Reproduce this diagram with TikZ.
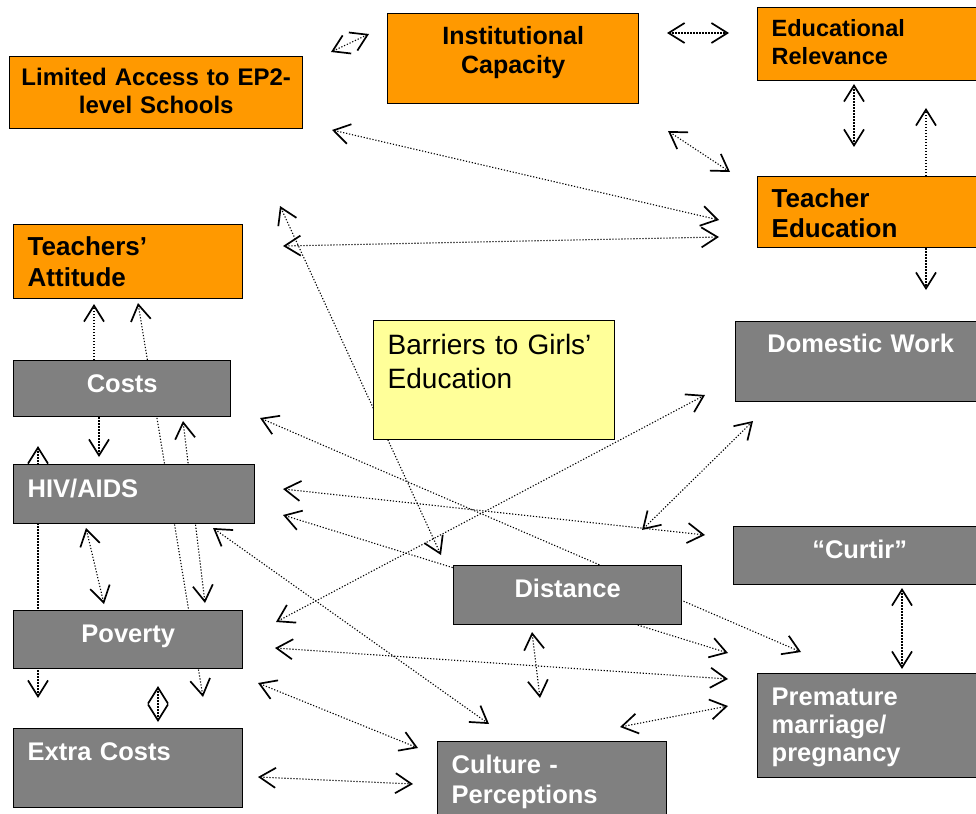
\documentclass[tikz,border=0pt]{standalone}
\usepackage{fontspec}
\setmainfont{Liberation Sans}
\usetikzlibrary{arrows.meta, backgrounds}
\definecolor{boxorange}{HTML}{FF9900}
\definecolor{boxgrey}{HTML}{808080}
\definecolor{boxyellow}{HTML}{FFFF99}
\tikzset{
  box/.style = {draw, line width=1.4pt, anchor=north west, inner ysep=0pt},
  orangebox/.style = {box, fill=boxorange, font=\bfseries\fontsize{24}{28}\selectfont},
  greybox/.style = {box, fill=boxgrey, text=white, font=\bfseries\fontsize{25.5}{29}\selectfont},
  notebox/.style = {box, fill=boxyellow, font=\fontsize{28}{34}\selectfont},
  leftbox/.style = {align=left, inner xsep=14pt},
  midbox/.style = {align=center, inner xsep=4pt},
  link/.style = {dash pattern=on 1.2pt off 1.8pt, line width=1.1pt},
}

\begin{document}
\begin{tikzpicture}[x=1pt, y=-1pt, >={Straight Barb[length=16pt, width=20pt, line width=1.7pt]}]
  \useasboundingbox (0,0) rectangle (976,813);

  % orange boxes
  \node (acc) [orangebox, midbox, text width=285pt, text height=29pt, text depth=43pt] at (9,56) {Limited Access to EP2-\\level Schools};
  \node (cap) [orangebox, midbox, text width=243pt, text height=31pt, text depth=59pt,
    font=\bfseries\fontsize{25}{29}\selectfont] at (387,13) {Institutional\\Capacity};
  \node (rel) [orangebox, leftbox, text width=212pt, text height=29pt, text depth=44pt,
    font=\bfseries\fontsize{23.5}{27.5}\selectfont] at (757,7) {Educational\\Relevance};
  \node (ted) [orangebox, leftbox, text width=212pt, text height=31pt, text depth=40pt,
    font=\bfseries\fontsize{26}{30}\selectfont] at (757,176) {Teacher\\Education};
  \node (att) [orangebox, leftbox, text width=201pt, text height=31pt, text depth=43pt,
    font=\bfseries\fontsize{26}{30.5}\selectfont] at (13,224) {Teachers’\\Attitude};

  % grey boxes
  \node (cos) [greybox, midbox, text width=209pt, text height=32pt, text depth=24pt] at (13,360) {Costs};
  \node (hiv) [greybox, leftbox, text width=213pt, text height=33pt, text depth=26pt] at (13,464) {HIV/AIDS};
  \node (pov) [greybox, midbox, text width=221pt, text height=32pt, text depth=26pt] at (13,610) {Poverty};
  \node (xc) [greybox, leftbox, text width=201pt, text height=32pt, text depth=47pt] at (13,728) {Extra Costs};
  \node (dom) [greybox, midbox, text width=242pt, text height=31pt, text depth=49pt] at (735,321) {Domestic Work};
  \node (cur) [greybox, midbox, text width=244pt, text height=32pt, text depth=26pt] at (733,526) {“Curtir”};
  \node (dis) [greybox, midbox, text width=220pt, text height=32pt, text depth=27pt] at (453,565) {Distance};
  \node (pre) [greybox, leftbox, text width=212pt, text height=32pt, text depth=72pt,
    font=\bfseries\fontsize{25.5}{28}\selectfont] at (757,673) {Premature\\marriage/\\pregnancy};
  \node (cul) [greybox, leftbox, text width=201pt, text height=32pt, text depth=53pt,
    font=\bfseries\fontsize{25.5}{29.5}\selectfont] at (437,741) {Culture -\\Perceptions};

  % title box
  \node (bar) [notebox, leftbox, text width=213pt, text height=34pt, text depth=85pt] at (373,320) {Barriers to Girls’\\Education};

  \begin{scope}[on background layer]
    % free ends of the arrows
    \foreach \n/\x/\y in {
      acc1/331/52, cap1/369/34, cap2/667/33, rel1/729/33, rel2/854/84, ted1/854/147,
      tedUp/926/108, tedDn/926/290, cap3/668/131, ted2/730/172, acc2/332/130, ted3/719/220,
      att1/283/246, ted4/719/237, att2/280/206, dis1/441/555, att3/138/303, xc1/203/697,
      hiv1/99/457, hiv2/38/446, xc2/38/698, hiv3/86/528, pov1/104/604, pov2/158/686,
      xc3/158/722, xc4/258/777, cul1/413/784, pov3/258/683, cul2/418/748, pov4/275/648,
      pre1/728/679, pov5/276/622, dom1/705/395, hiv4/283/515, pre2/728/653, hiv5/283/489,
      cur1/705/535, cos1/260/418, pre3/801/652, hiv6/213/528, cul3/489/724, dom2/753/421,
      dis2/642/530, dis3/532/632, cul4/540/698, cul5/620/727, pre4/728/706, cur3/902/588,
      pre5/902/669, cos2/183/421, pov6/205/603, att4/94/304%
    }{
      \coordinate (\n) at (\x,\y);
    }

    % two-way links
    \foreach \s/\t in {
      acc1/cap1, cap2/rel1, rel2/ted1, cap3/ted2, acc2/ted3, att1/ted4, att2/dis1,
      att3/xc1, hiv2/xc2, hiv3/pov1, pov2/xc3, xc4/cul1, pov3/cul2, pov4/pre1,
      pov5/dom1, hiv4/pre2, hiv5/cur1, cos1/pre3, hiv6/cul3, dis2/dom2, dis3/cul4,
      cul5/pre4, cur3/pre5, cos2/pov6%
    }{
      \draw [link, <->] (\s) -- (\t);
    }

    % one-way links
    \draw [link, ->] (ted.north -| tedUp) -- (tedUp);
    \draw [link, ->] (ted.south -| tedDn) -- (tedDn);
    \draw [link, ->] (cos.south -| hiv1) -- (hiv1);
    \draw [link, ->] (cos.north -| att4) -- (att4);
  \end{scope}
\end{tikzpicture}
\end{document}
